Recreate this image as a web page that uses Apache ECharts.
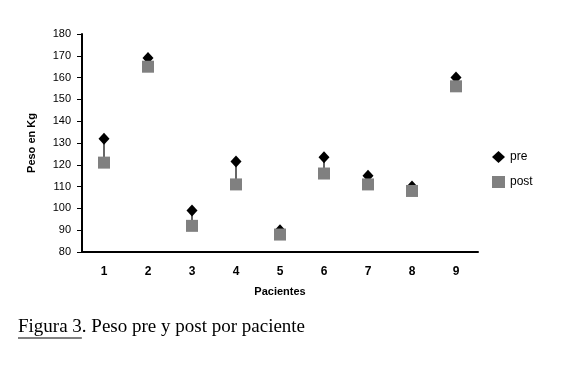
<!DOCTYPE html>
<html><head><meta charset="utf-8">
<script src="https://cdn.jsdelivr.net/npm/echarts@6/dist/echarts.min.js"></script>
<style>html,body{margin:0;padding:0;background:#fff}#c{width:563px;height:374px}</style>
</head><body><div id="c"></div>
<script>
const categories = ['1','2','3','4','5','6','7','8','9'];
const preValues = [132, 169, 99, 121.5, 90, 123.5, 115, 110, 160];
const postValues = [121, 165, 92, 111, 88, 116, 111, 108, 156];
const yTicks = {min: 80, max: 180, interval: 10};

const font = 'Liberation Sans, Arial, sans-serif';
const serif = '19px "Liberation Serif", "Times New Roman", serif';
const ctx = document.createElement('canvas').getContext('2d');
ctx.font = serif;
const w1 = ctx.measureText('Figura 3').width;

const chart = echarts.init(document.getElementById('c'), null, {renderer: 'canvas'});
chart.setOption({
  backgroundColor: '#fff',
  animation: false,
  grid: {left: 82, right: 85, top: 34, bottom: 122},
  legend: {
    orient: 'vertical', left: 492, top: 151, padding: 0, itemGap: 13, itemWidth: 13, itemHeight: 12,
    textStyle: {fontFamily: font, fontSize: 12, color: '#000'},
    data: [{name: 'pre', icon: 'diamond'}, {name: 'post', icon: 'rect'}]
  },
  xAxis: {
    type: 'category', data: categories, boundaryGap: true,
    name: 'Pacientes', nameLocation: 'middle', nameGap: 34,
    nameTextStyle: {fontFamily: font, fontSize: 11, fontWeight: 'bold', color: '#000'},
    axisLine: {lineStyle: {color: '#000', width: 2}},
    axisTick: {show: false},
    axisLabel: {fontFamily: font, fontSize: 12, fontWeight: 'bold', color: '#000', margin: 14}
  },
  yAxis: {
    type: 'value', min: yTicks.min, max: yTicks.max, interval: yTicks.interval,
    name: 'Peso en Kg', nameLocation: 'middle', nameGap: 45, nameRotate: 90,
    nameTextStyle: {fontFamily: font, fontSize: 11, fontWeight: 'bold', color: '#000'},
    axisLine: {show: true, lineStyle: {color: '#000', width: 2}},
    axisTick: {show: true, length: 5, lineStyle: {color: '#000', width: 1}},
    axisLabel: {fontFamily: font, fontSize: 11, color: '#000', margin: 11},
    splitLine: {show: false}
  },
  graphic: [
    {type: 'text', left: 18, top: 318, style: {text: 'Figura 3', font: serif, fill: '#000'}},
    {type: 'text', left: 18 + w1, top: 318, style: {text: '. Peso pre y post por paciente', font: serif, fill: '#000'}},
    {type: 'line', shape: {x1: 18, y1: 338, x2: 18 + w1, y2: 338}, style: {stroke: '#000', lineWidth: 1}}
  ],
  series: [
    {
      type: 'custom', name: 'link', silent: true, z: 1,
      data: categories.map((c, i) => [i, preValues[i], postValues[i]]),
      renderItem: function (params, api) {
        const p1 = api.coord([api.value(0), api.value(1)]);
        const p2 = api.coord([api.value(0), api.value(2)]);
        return {type: 'line', shape: {x1: p1[0], y1: p1[1], x2: p2[0], y2: p2[1]}, style: {stroke: '#000', lineWidth: 1.2}};
      }
    },
    {
      type: 'scatter', name: 'pre', symbol: 'diamond', symbolSize: [11, 12], z: 2,
      itemStyle: {color: '#000', opacity: 1}, data: preValues
    },
    {
      type: 'scatter', name: 'post', symbol: 'rect', symbolSize: 12, z: 3,
      itemStyle: {color: '#808080', opacity: 1}, data: postValues
    }
  ]
});
</script></body></html>
